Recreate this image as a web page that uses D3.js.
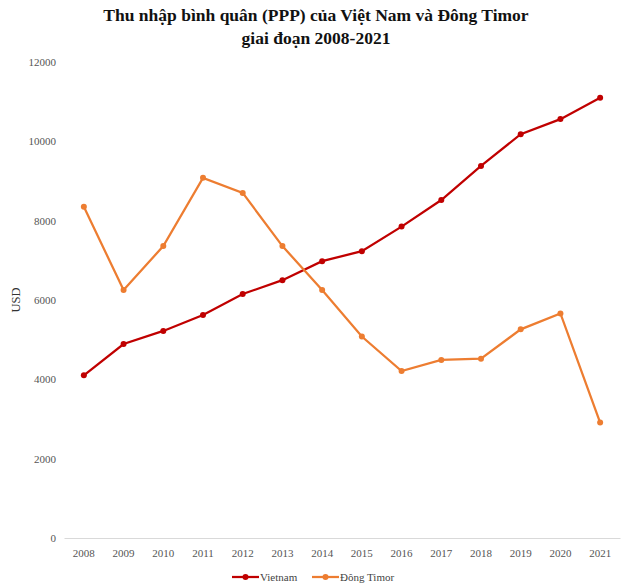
<!DOCTYPE html>
<html>
<head>
<meta charset="utf-8">
<script src="https://cdn.jsdelivr.net/npm/d3@7"></script>
<style>
  body { margin: 0; background: #fff; }
  text { font-family: "Liberation Serif", "Times New Roman", serif; }
</style>
</head>
<body>
<svg id="chart" width="630" height="587"></svg>
<script>
const years = ["2008", "2009", "2010", "2011", "2012", "2013", "2014", "2015", "2016", "2017", "2018", "2019", "2020", "2021"];
const vietnam = [4100, 4890, 5220, 5620, 6150, 6500, 6980, 7230, 7850, 8520, 9380, 10180, 10560, 11100];
const timor = [8350, 6250, 7360, 9080, 8700, 7360, 6250, 5080, 4210, 4490, 4520, 5260, 5660, 2910];
const yTicks = [0, 2000, 4000, 6000, 8000, 10000, 12000];

const width = 630;
const height = 587;
const margin = { top: 62, right: 10, bottom: 49, left: 64 };
const serif = "'Liberation Serif', 'Times New Roman', serif";

const svg = d3.select("#chart");

const x = d3.scaleBand()
  .domain(years)
  .range([margin.left, width - margin.right]);

const y = d3.scaleLinear()
  .domain([0, 12000])
  .range([height - margin.bottom, margin.top]);

// title
svg.append("text")
  .attr("x", 316).attr("y", 21)
  .attr("text-anchor", "middle")
  .style("font-family", serif)
  .style("font-size", "17.5px").style("font-weight", "bold")
  .attr("fill", "#111")
  .text("Thu nhập bình quân (PPP) của Việt Nam và Đông Timor");
svg.append("text")
  .attr("x", 316).attr("y", 44)
  .attr("text-anchor", "middle")
  .style("font-family", serif)
  .style("font-size", "17.5px").style("font-weight", "bold")
  .attr("fill", "#111")
  .text("giai đoạn 2008-2021");

// y axis
const yAxis = svg.append("g")
  .attr("transform", `translate(${margin.left - 8}, 0)`)
  .call(d3.axisLeft(y).tickValues(yTicks).tickFormat(d3.format("d")).tickSize(0).tickPadding(0));
yAxis.select(".domain").remove();
yAxis.selectAll("text")
  .style("font-family", serif).style("font-size", "11px")
  .attr("fill", "#555");

// x axis
const xAxis = svg.append("g")
  .attr("transform", `translate(0, ${y(0)})`)
  .call(d3.axisBottom(x).tickSize(0).tickPadding(11));
xAxis.select(".domain").attr("stroke", "#d9d9d9");
xAxis.selectAll("text")
  .style("font-family", serif).style("font-size", "11px")
  .attr("fill", "#555");

// y label
svg.append("text")
  .attr("transform", `translate(20, ${y(6000)}) rotate(-90)`)
  .attr("text-anchor", "middle")
  .style("font-family", serif).style("font-size", "12.5px")
  .attr("fill", "#333")
  .text("USD");

const series = [
  { name: "Vietnam", values: vietnam, color: "#C00000" },
  { name: "Đông Timor", values: timor, color: "#ED7D31" }
];

const line = d3.line()
  .x((d, i) => x(years[i]) + x.bandwidth() / 2)
  .y(d => y(d));

series.forEach(s => {
  svg.append("path")
    .attr("d", line(s.values))
    .attr("fill", "none")
    .attr("stroke", s.color)
    .attr("stroke-width", 2.25);
  svg.append("g").selectAll("circle")
    .data(s.values)
    .join("circle")
    .attr("cx", (d, i) => x(years[i]) + x.bandwidth() / 2)
    .attr("cy", d => y(d))
    .attr("r", 3)
    .attr("fill", s.color);
});

// legend
const legend = svg.append("g").attr("transform", "translate(232, 577)");
const legendX = [0, 80];
series.forEach((s, i) => {
  const g = legend.append("g").attr("transform", `translate(${legendX[i]}, 0)`);
  g.append("line").attr("x1", 0).attr("x2", 27).attr("y1", 0).attr("y2", 0)
    .attr("stroke", s.color).attr("stroke-width", 2.25);
  g.append("circle").attr("cx", 13.5).attr("cy", 0).attr("r", 3).attr("fill", s.color);
  g.append("text").attr("x", 28).attr("y", 4)
    .style("font-family", serif).style("font-size", "11px")
    .attr("fill", "#444")
    .text(s.name);
});
</script>
</body>
</html>
